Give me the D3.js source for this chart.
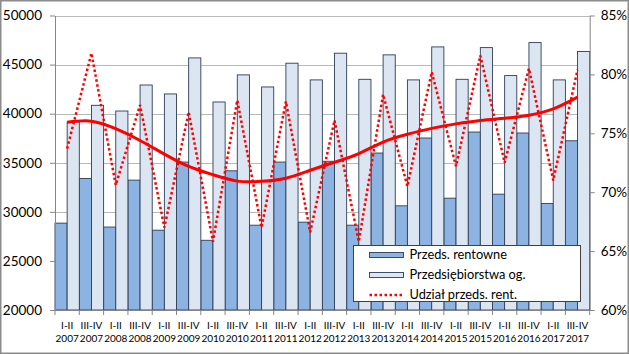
<!DOCTYPE html>
<html>
<head>
<meta charset="utf-8">
<script src="https://cdn.jsdelivr.net/npm/d3@7"></script>
<style>
  html, body { margin: 0; padding: 0; background: #fff; }
  svg { display: block; }
  .axis text { font-family: Lato, "Open Sans", sans-serif; fill: #000; }
</style>
</head>
<body>
<svg id="chart" width="629" height="354"></svg>
<script>
// categories (half-years)
let categories = ["I-II 2007", "III-IV 2007", "I-II 2008", "III-IV 2008", "I-II 2009", "III-IV 2009",
                  "I-II 2010", "III-IV 2010", "I-II 2011", "III-IV 2011", "I-II 2012", "III-IV 2012",
                  "I-II 2013", "III-IV 2013", "I-II 2014", "III-IV 2014", "I-II 2015", "III-IV 2015",
                  "I-II 2016", "III-IV 2016", "I-II 2017", "III-IV 2017"]

// Przeds. rentowne
let rentowne = [28850, 33400, 28450, 33230, 28130, 35070, 27100, 34180, 28640, 35070, 28950,
                35150, 28640, 35990, 30610, 37520, 31390, 38130, 31800, 38030, 30850, 37240]

// Przedsiębiorstwa og.
let ogolem = [39150, 40850, 40270, 42920, 42010, 45680, 41190, 43950, 42720, 45140, 43440,
              46160, 43500, 45990, 43440, 46800, 43500, 46730, 43880, 47240, 43440, 46330]

// Udział przeds. rent. (%)
let udzial = [73.7, 81.8, 70.6, 77.4, 67.0, 76.8, 65.8, 77.8, 67.0, 77.7, 66.6,
              76.1, 65.8, 78.3, 70.5, 80.2, 72.2, 81.6, 72.5, 80.5, 71.0, 80.4]

// trend line of the share (%)
let trend = [75.93, 76.03, 75.39, 74.39, 73.23, 72.19, 71.48, 70.94, 70.92, 71.19, 71.86,
             72.54, 73.28, 74.26, 74.92, 75.42, 75.80, 76.09, 76.28, 76.54, 77.07, 78.07]

let leftTicks = [20000, 25000, 30000, 35000, 40000, 45000, 50000]
let rightTicks = [60, 65, 70, 75, 80, 85]

let legendItems = ["Przeds. rentowne", "Przedsiębiorstwa og.", "Udział przeds. rent."]

let svg = d3.select("#chart")
let plot = {left: 55, right: 589.7, top: 15.5, bottom: 310}

// outer chart border
svg.append("rect")
    .attr("x", 0.75).attr("y", 0.75)
    .attr("width", 627.5).attr("height", 352.5)
    .attr("fill", "#fff")
    .attr("stroke", "#8c8c8c")
    .attr("stroke-width", 1.5)

let x = d3.scaleBand()
    .domain(categories)
    .range([plot.left, plot.right])
    .padding(0)

let xInner = d3.scaleBand()
    .domain(["rentowne", "ogolem"])
    .range([0, x.bandwidth()])

let yLeft = d3.scaleLinear().domain([20000, 50000]).range([plot.bottom, plot.top])
let yRight = d3.scaleLinear().domain([60, 85]).range([plot.bottom, plot.top])

// gridlines
svg.append("g")
    .selectAll("line")
    .data(leftTicks.slice(1))
    .join("line")
    .attr("x1", plot.left).attr("x2", plot.right)
    .attr("y1", d => Math.round(yLeft(d)) + 0.5)
    .attr("y2", d => Math.round(yLeft(d)) + 0.5)
    .attr("stroke", "#b9b9b9")
    .attr("stroke-width", 1)

// bars
let bars = svg.append("g")
bars.selectAll(".bar-r")
    .data(rentowne)
    .join("rect")
    .attr("class", "bar-r")
    .attr("x", (d, i) => x(categories[i]) + xInner("rentowne"))
    .attr("y", d => yLeft(d))
    .attr("width", xInner.bandwidth())
    .attr("height", d => plot.bottom - yLeft(d))
    .style("fill", "#8db3e2")
    .style("stroke", "#2d3e55")
    .style("stroke-width", 0.9)

bars.selectAll(".bar-o")
    .data(ogolem)
    .join("rect")
    .attr("class", "bar-o")
    .attr("x", (d, i) => x(categories[i]) + xInner("ogolem"))
    .attr("y", d => yLeft(d))
    .attr("width", xInner.bandwidth())
    .attr("height", d => plot.bottom - yLeft(d))
    .style("fill", "#dce6f2")
    .style("stroke", "#2d3e55")
    .style("stroke-width", 0.9)

// axes
let leftAxis = svg.append("g")
    .attr("class", "axis")
    .attr("transform", `translate(${plot.left},0)`)
    .call(d3.axisLeft(yLeft).tickValues(leftTicks).tickFormat(d3.format("d"))
        .tickSize(5).tickSizeOuter(0).tickPadding(8))
leftAxis.selectAll("text").style("font-size", "13.5px")

let rightAxis = svg.append("g")
    .attr("class", "axis")
    .attr("transform", `translate(${plot.right},0)`)
    .call(d3.axisRight(yRight).tickValues(rightTicks).tickFormat(d => d + "%")
        .tickSize(5).tickSizeOuter(0).tickPadding(6))
rightAxis.selectAll("text").style("font-size", "13.5px")

let bottomAxis = svg.append("g")
    .attr("class", "axis")
    .attr("transform", `translate(0,${plot.bottom})`)
    .call(d3.axisBottom(x).tickSize(0).tickSizeOuter(0).tickPadding(0))
bottomAxis.selectAll("text")
    .style("font-size", "10px")
    .each(function(d) {
        let parts = d.split(" ")
        let t = d3.select(this).text(null).attr("dy", null).attr("y", 0)
        t.append("tspan").attr("x", 0).attr("y", 18.5).text(parts[0])
        t.append("tspan").attr("x", 0).attr("y", 31.5).text(parts[1])
    })

// category boundary ticks
bottomAxis.selectAll(".bound")
    .data(categories.concat(["end"]))
    .join("line")
    .attr("class", "bound")
    .attr("x1", d => d == "end" ? plot.right : x(d))
    .attr("x2", d => d == "end" ? plot.right : x(d))
    .attr("y1", 0).attr("y2", 5)
    .attr("stroke", "#868686")

svg.selectAll(".axis path.domain, .axis .tick line").attr("stroke", "#868686")

// trend line
let lineX = (d, i) => x(categories[i]) + x.bandwidth() / 2
svg.append("path")
    .datum(trend)
    .attr("d", d3.line().x(lineX).y(d => yRight(d)).curve(d3.curveNatural))
    .attr("fill", "none")
    .attr("stroke", "#ff0000")
    .attr("stroke-width", 3)

// share line, dotted
svg.append("path")
    .datum(udzial)
    .attr("d", d3.line().x(lineX).y(d => yRight(d)))
    .attr("fill", "none")
    .attr("stroke", "#ff0000")
    .attr("stroke-width", 2.5)
    .attr("stroke-dasharray", "2.5,2.5")

// legend
let legend = svg.append("g").attr("transform", "translate(353.5,245.5)")
legend.append("rect")
    .attr("width", 227).attr("height", 56)
    .attr("fill", "#fff")
    .attr("stroke", "#404040")
    .attr("stroke-width", 1)

legendItems.forEach((name, i) => {
    let cy = 9.5 + i * 20
    if (i < 2) {
        legend.append("rect")
            .attr("x", 16).attr("y", cy - 2.5)
            .attr("width", 34).attr("height", 5)
            .style("fill", i == 0 ? "#8db3e2" : "#dce6f2")
            .style("stroke", "#2d3e55")
            .style("stroke-width", 0.9)
    } else {
        legend.append("line")
            .attr("x1", 16).attr("x2", 50)
            .attr("y1", cy).attr("y2", cy)
            .attr("stroke", "#ff0000")
            .attr("stroke-width", 2.5)
            .attr("stroke-dasharray", "2.5,2.5")
    }
    legend.append("text")
        .attr("x", 56).attr("y", cy)
        .attr("dy", "0.35em")
        .style("font-family", "Lato, 'Open Sans', sans-serif")
        .style("font-size", "12.8px")
        .text(name)
})
</script>
</body>
</html>
